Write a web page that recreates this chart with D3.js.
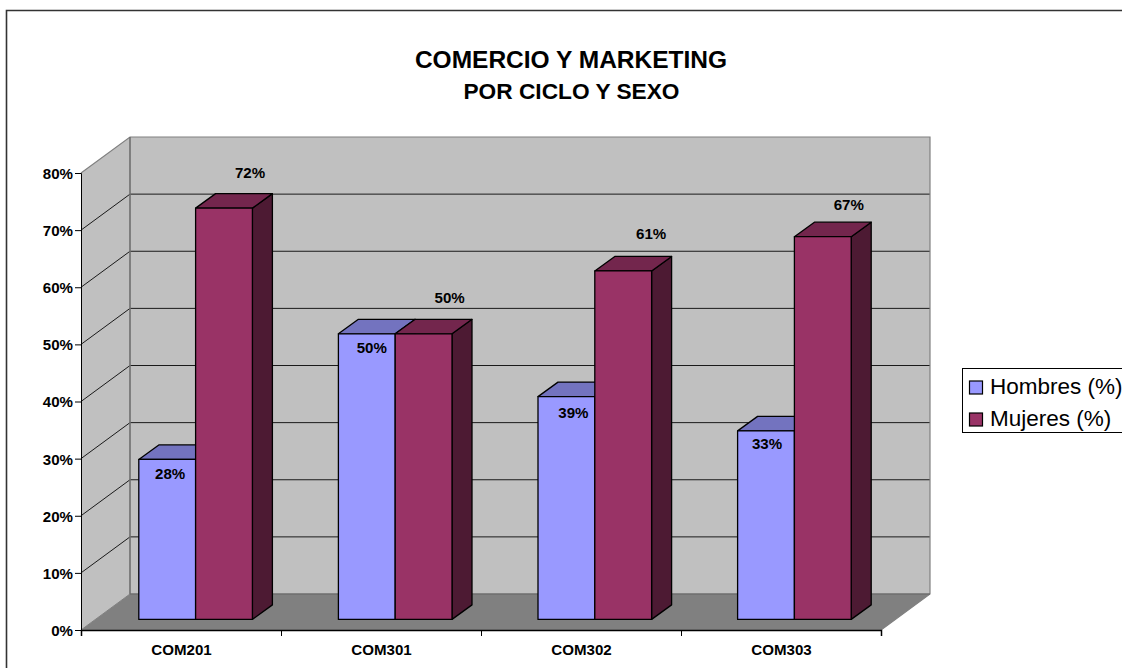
<!DOCTYPE html>
<html><head><meta charset="utf-8">
<script src="https://cdn.jsdelivr.net/npm/d3@7/dist/d3.min.js"></script>
<style>html,body{margin:0;padding:0;background:#fff}svg{display:block}text{font-family:"Liberation Sans",Arial,sans-serif}</style>
</head><body><svg id="c" width="1122" height="668"></svg>
<script>
const categories = ["COM201","COM301","COM302","COM303"];
const seriesNames = ["Hombres (%)","Mujeres (%)"];
const hombres = [28,50,39,33];
const mujeres = [72,50,61,67];
const yTicks = [0,10,20,30,40,50,60,70,80];
const colors = ["#9999ff","#993366"];
const topColors = ["#7373bf","#73264d"];
const sideColors = ["#4d4d80","#4d1a33"];

const svg = d3.select("#c");
const x = d3.scaleBand().domain(categories).range([81,881]);
const xBars = d3.scaleBand().domain(categories).range([81,879.4]);
const y = d3.scaleLinear().domain([0,80]).range([630,173]);
const wall = {dx:49, dy:-36};
const barFront = {dx:15, dy:-10.6};
const barDepth = {dx:20, dy:-14.5};
const barW = 56.8, barPad = 42.8;
const labelFont = 15.1;
const poly = pts => pts.map(p=>p.join(",")).join(" ");

// frame
svg.append("path").attr("d","M6.5,668V10.5H1122").attr("fill","none").attr("stroke","#333").attr("stroke-width",1.6);

// walls
const x0=x.range()[0], x1=x.range()[1], y0=y(0), yT=y(80);
svg.append("polygon").attr("points",poly([[x0,y0],[x0,yT],[x0+wall.dx,yT+wall.dy],[x0+wall.dx,y0+wall.dy]])).attr("fill","#c0c0c0");
svg.append("rect").attr("x",x0+wall.dx).attr("y",yT+wall.dy).attr("width",x1-x0).attr("height",y0-yT).attr("fill","#c0c0c0");
svg.append("polygon").attr("points",poly([[x0,y0],[x1,y0],[x1+wall.dx,y0+wall.dy],[x0+wall.dx,y0+wall.dy]])).attr("fill","#808080");

// gridlines
yTicks.forEach(t=>{
  if(t===0||t===80) return;
  svg.append("path").attr("d",`M${x0},${y(t)}L${x0+wall.dx},${y(t)+wall.dy}H${x1+wall.dx}`).attr("fill","none").attr("stroke","#1a1a1a").attr("stroke-width",1);
});
// wall edges
svg.append("path").attr("d",`M${x0},${yT}L${x0+wall.dx},${yT+wall.dy}H${x1+wall.dx}V${y0+wall.dy}L${x1},${y0}`).attr("fill","none").attr("stroke","#808080").attr("stroke-width",1.2);
svg.append("path").attr("d",`M${x0+wall.dx},${yT+wall.dy}V${y0+wall.dy}H${x1+wall.dx}`).attr("fill","none").attr("stroke","#6e6e6e").attr("stroke-width",1.6);
svg.append("path").attr("d",`M${x0},${y0}L${x0+wall.dx},${y0+wall.dy}`).attr("fill","none").attr("stroke","#808080").attr("stroke-width",1);

// axes
const gy = svg.append("g").attr("transform",`translate(${x0},0)`)
  .call(d3.axisLeft(y).tickValues(yTicks).tickFormat(d=>d+"%").tickSize(6).tickPadding(2));
gy.selectAll("text").attr("font-size",labelFont).attr("font-weight","bold").attr("fill","#000").attr("dy","0.36em").style("font-family",'"Liberation Sans",Arial,sans-serif');
gy.selectAll("line,path").attr("stroke","#000");
const boundaries = d3.range(categories.length+1).map(i=>x0+i*x.step());
const axisBoundary = d3.scaleLinear().domain([x0,x1]).range([x0,x1]);
const gx = svg.append("g").attr("transform",`translate(0,${y0})`)
  .call(d3.axisBottom(axisBoundary).tickValues(boundaries).tickFormat("").tickSize(6));
gx.selectAll("line").attr("stroke","#000");
gx.select("path").attr("stroke","#000").attr("stroke-width",1.5);
svg.selectAll(".cat").data(categories).enter().append("text").attr("class","cat")
  .attr("x",d=>x(d)+x.bandwidth()/2+0.5).attr("y",655).attr("text-anchor","middle")
  .attr("font-size",labelFont).attr("font-weight","bold").attr("fill","#000").text(d=>d);

// bars
categories.forEach((c,i)=>{
  [hombres,mujeres].forEach((vals,s)=>{
    const v=vals[i];
    const bx=xBars(c)+barPad+barFront.dx+s*barW, by0=y0+barFront.dy, byT=y(v)+barFront.dy;
    const g=svg.append("g").attr("stroke","#000").attr("stroke-width",1.3).attr("stroke-linejoin","round");
    g.append("polygon").attr("points",poly([[bx+barW,by0],[bx+barW+barDepth.dx,by0+barDepth.dy],[bx+barW+barDepth.dx,byT+barDepth.dy],[bx+barW,byT]])).attr("fill",sideColors[s]);
    g.append("polygon").attr("points",poly([[bx,byT],[bx+barDepth.dx,byT+barDepth.dy],[bx+barW+barDepth.dx,byT+barDepth.dy],[bx+barW,byT]])).attr("fill",topColors[s]);
    g.append("rect").attr("x",bx).attr("y",byT).attr("width",barW).attr("height",by0-byT).attr("fill",colors[s]);
  });
});
// data labels: placed relative to the top of each bar, with the small per-label drift of the original
const drift = (s,i) => s===0 ? [[1,0],[3,-1],[5,1],[-1,-2]][i] : [[0,0],[0,-1],[2,-2],[0,3]][i];
categories.forEach((c,i)=>{
  [hombres,mujeres].forEach((vals,s)=>{
    const v=vals[i];
    const bx=xBars(c)+barPad+barFront.dx+s*barW, byT=y(v)+barFront.dy;
    const d=drift(s,i);
    const lx = bx + barW/2 + (s===0?2:26) + d[0];
    const ly = (s===0 ? byT+20 : byT-30) + d[1];
    svg.append("text").attr("x",lx).attr("y",ly).attr("text-anchor","middle").attr("font-size",labelFont).attr("font-weight","bold").attr("fill","#000").text(v+"%");
  });
});

// title
svg.append("text").attr("x",571).attr("y",68).attr("text-anchor","middle").attr("font-size",24.5).attr("font-weight","bold").text("COMERCIO Y MARKETING");
svg.append("text").attr("x",571.5).attr("y",99).attr("text-anchor","middle").attr("font-size",22.7).attr("font-weight","bold").text("POR CICLO Y SEXO");

// legend
svg.append("rect").attr("x",962.5).attr("y",368.5).attr("width",170).attr("height",64).attr("fill","#fff").attr("stroke","#000");
seriesNames.forEach((n,i)=>{
  const ly=387.5+i*32;
  svg.append("rect").attr("x",969.5).attr("y",ly-6.5).attr("width",13).attr("height",13).attr("fill",colors[i]).attr("stroke","#000").attr("stroke-width",1.2);
  svg.append("text").attr("x",990).attr("y",ly+6).attr("font-size",22.5).attr("fill","#000").text(n);
});
</script></body></html>
